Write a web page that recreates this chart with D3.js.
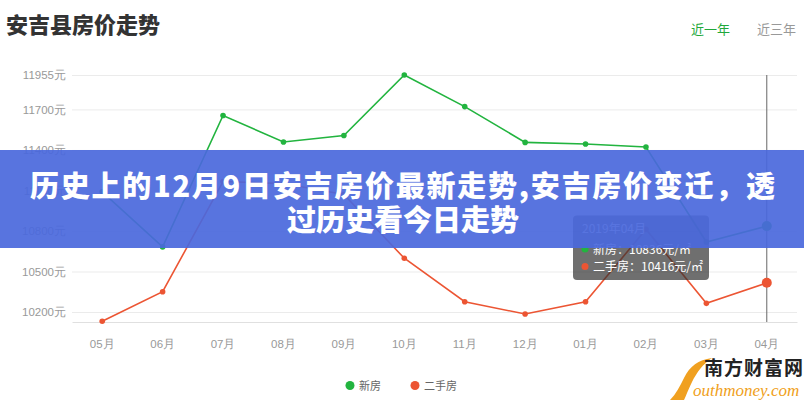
<!DOCTYPE html>
<html><head><meta charset="utf-8">
<script src="https://cdn.jsdelivr.net/npm/d3@7/dist/d3.min.js"></script>
<style>body{margin:0;background:#fff;}svg{display:block;font-family:"Noto Sans CJK SC","Noto Sans",sans-serif;}</style>
</head><body>
<svg id="c" width="804" height="400"></svg>
<script>
const months = ["05月","06月","07月","08月","09月","10月","11月","12月","01月","02月","03月","04月"];
const newHouse = [11090,10682,11655,11459,11507,11955,11721,11456,11444,11422,10718,10836];
const secondHand = [10131,10350,11166,11151,11070,10598,10276,10185,10276,10812,10264,10416];
const yTicks = [10200,10500,10800,11100,11400,11700,11955];
const seriesNames = ["新房","二手房"];
const colors = ["#22b43f","#ec5533"];

const svg = d3.select("#c");
const x = d3.scaleBand().domain(months).range([72,797]);
const y = d3.scaleLinear().domain([10126,11955]).range([322,75]);
const cx = m => x(m) + x.bandwidth()/2;

// title
svg.append("text").attr("x",6).attr("y",33).attr("font-size",22).attr("font-weight","900").attr("fill","#333").text("安吉县房价走势");
svg.append("text").attr("x",691).attr("y",34).attr("font-size",13).attr("fill","#22a83a").text("近一年");
svg.append("text").attr("x",757).attr("y",34).attr("font-size",13).attr("fill","#999").text("近三年");

// grid
const yAxis = d3.axisLeft(y).tickValues(yTicks).tickSize(-(797-72)).tickFormat(d=>d+"元");
const gy = svg.append("g").attr("transform","translate(72,0)").call(yAxis);
gy.select(".domain").remove();
gy.selectAll(".tick line").attr("stroke","#ebebeb");
gy.selectAll(".tick text").attr("x",-6).attr("fill","#999").attr("font-size",11.5);

const xAxis = d3.axisBottom(x).tickSize(0).tickPadding(18);
const gx = svg.append("g").attr("transform","translate(0,322)").call(xAxis);
gx.select(".domain").attr("stroke","#e0e0e0");
gx.selectAll(".tick text").attr("fill","#999").attr("font-size",11.5);

// cursor line
svg.append("line").attr("x1",cx("04月")).attr("x2",cx("04月")).attr("y1",75).attr("y2",322).attr("stroke","#666").attr("stroke-width",1);

const data = [newHouse, secondHand];
const line = d3.line().x((d,i)=>cx(months[i])).y(d=>y(d));
data.forEach((s,k)=>{
  svg.append("path").datum(s).attr("d",line).attr("fill","none").attr("stroke",colors[k]).attr("stroke-width",1.6);
  svg.selectAll(".p"+k).data(s).enter().append("circle")
    .attr("cx",(d,i)=>cx(months[i])).attr("cy",d=>y(d))
    .attr("r",(d,i)=>i===s.length-1?5:2.8).attr("fill",colors[k]);
});

// tooltip
const tip = svg.append("g");
tip.append("rect").attr("x",573).attr("y",215.5).attr("width",136).attr("height",64.5).attr("rx",4).attr("fill","rgba(50,50,50,0.7)");
tip.append("text").attr("x",582).attr("y",233).attr("font-size",12).attr("fill","#fff").text("2019年04月");
[["新房",newHouse[11]],["二手房",secondHand[11]]].forEach((r,i)=>{
  tip.append("circle").attr("cx",585).attr("cy",249+i*17.5).attr("r",3.5).attr("fill",colors[i]);
  tip.append("text").attr("x",593).attr("y",253.5+i*17.5).attr("font-size",12).attr("fill","#fff").text(r[0]+"："+r[1]+"元/㎡");
});

// legend
const lx = [350,415];
seriesNames.forEach((n,i)=>{
  svg.append("circle").attr("cx",lx[i]).attr("cy",385.5).attr("r",4.5).attr("fill",colors[i]);
  svg.append("text").attr("x",lx[i]+9).attr("y",389.5).attr("font-size",11).attr("fill","#666").text(n);
});

// watermark
const wm = svg.append("g");
wm.append("path").attr("d","M670,400 C676,394 680,386 684,378 C690,366 698,360 712,358 C703,364 697,372 692,382 C688,390 686,396 684,400 Z").attr("fill","#f0a020");
wm.append("text").attr("x",704).attr("y",375).attr("font-size",19).attr("font-weight","bold").attr("fill","#222").attr("letter-spacing",1).text("南方财富网");
wm.append("text").attr("x",693).attr("y",396).attr("font-size",17).attr("font-style","italic").attr("font-family","Liberation Serif, serif").attr("fill","#f0a020").text("outhmoney.com");

// banner
svg.append("rect").attr("x",0).attr("y",150).attr("width",804).attr("height",98).attr("fill","#4a68dc").attr("opacity",0.92);
svg.append("text").attr("x",30).attr("y",197).attr("textLength",745).attr("lengthAdjust","spacing").attr("font-size",29).attr("font-weight","900").attr("fill","#fff").text("历史上的12月9日安吉房价最新走势,安吉房价变迁，透");
svg.append("text").attr("x",403).attr("y",231).attr("text-anchor","middle").attr("font-size",29).attr("font-weight","900").attr("fill","#fff").text("过历史看今日走势");
</script>
</body></html>
